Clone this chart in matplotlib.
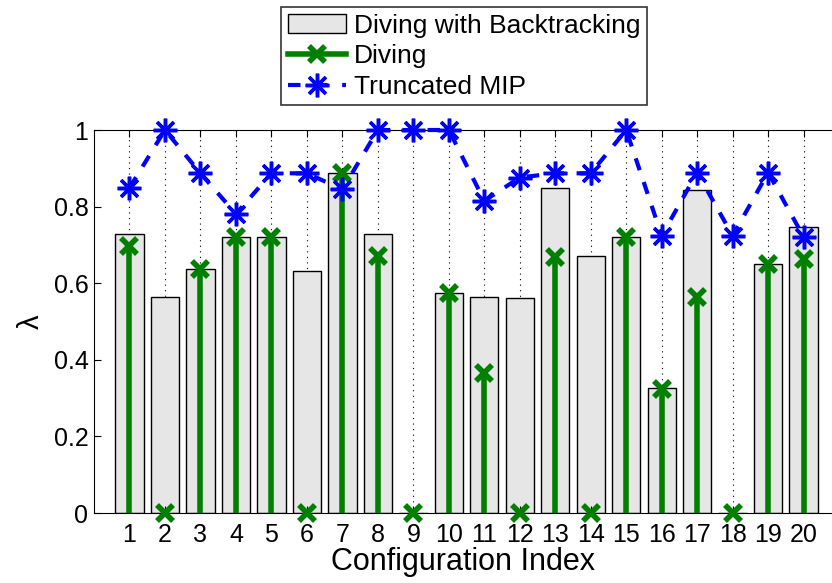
import matplotlib.pyplot as plt
from matplotlib.lines import Line2D

plt.rcParams['font.family'] = ['Liberation Sans', 'DejaVu Sans']

config = list(range(1, 21))
backtracking = [0.728, 0.565, 0.637, 0.721, 0.720, 0.633, 0.889, 0.728, 0.0, 0.574,
                0.563, 0.562, 0.848, 0.670, 0.721, 0.326, 0.843, 0.0, 0.649, 0.748]
diving = [0.698, 0.0, 0.636, 0.720, 0.720, 0.0, 0.889, 0.672, 0.0, 0.574,
          0.365, 0.0, 0.669, 0.0, 0.720, 0.325, 0.563, 0.0, 0.649, 0.663]
truncated = [0.849, 1.0, 0.887, 0.781, 0.887, 0.887, 0.845, 1.0, 1.0, 1.0,
             0.815, 0.876, 0.887, 0.887, 1.0, 0.724, 0.889, 0.724, 0.889, 0.721]

green = (0, 0.5, 0)
asterisk = (8, 2, 0)

fig = plt.figure(figsize=(8.32, 5.83), dpi=100)
ax = fig.add_axes([0.113, 0.120, 0.887, 0.657])

# grid only on x ticks
for x in config:
    ax.axvline(x, color='k', ls=(0, (1, 4)), lw=0.8, zorder=0)

ax.bar(config, backtracking, width=0.8, color='0.9', edgecolor='k', lw=1, zorder=1)
ax.vlines(config, 0, diving, color=green, lw=4, zorder=2)
ax.plot(config, diving, ls='none', marker='x', ms=12, mew=4, color=green, zorder=3,
        clip_on=False)
ax.plot(config, truncated, ls=(0, (3, 3)), lw=3, marker=asterisk, ms=17, mew=2.5,
        color='b', zorder=4, clip_on=False)

ax.set_xlim(0, 20.8)
ax.set_ylim(0, 1)
ax.set_xticks(config)
ax.set_yticks([0, 0.2, 0.4, 0.6, 0.8, 1])
ax.set_yticklabels(['0', '0.2', '0.4', '0.6', '0.8', '1'])
ax.tick_params(direction='in', labelsize=18, length=5, top=True)
ax.tick_params(axis='x', pad=7)
ax.tick_params(axis='y', pad=4)
ax.spines['right'].set_visible(False)
ax.set_xlabel('Configuration Index', fontsize=22, labelpad=0)
ax.set_ylabel('λ', fontsize=21, labelpad=6, rotation=90)

handles = [
    plt.Rectangle((0, 0), 1, 1, facecolor='0.9', edgecolor='k', lw=1),
    Line2D([], [], color=green, lw=4, marker='x', ms=12, mew=4),
    Line2D([], [], color='b', lw=3, ls=(0, (3, 3.5)), marker=asterisk, ms=17, mew=2.5),
]
labels = ['Diving with Backtracking', 'Diving', 'Truncated MIP']
leg = fig.legend(handles, labels, loc='upper left', bbox_to_anchor=(0.338, 0.988),
                 fontsize=19, frameon=True, fancybox=False, edgecolor='k',
                 handlelength=2.2, handletextpad=0.3, borderpad=0.25,
                 labelspacing=0.25, borderaxespad=0)
leg.get_frame().set_linewidth(1.2)

fig.savefig('out.png', dpi=100)
